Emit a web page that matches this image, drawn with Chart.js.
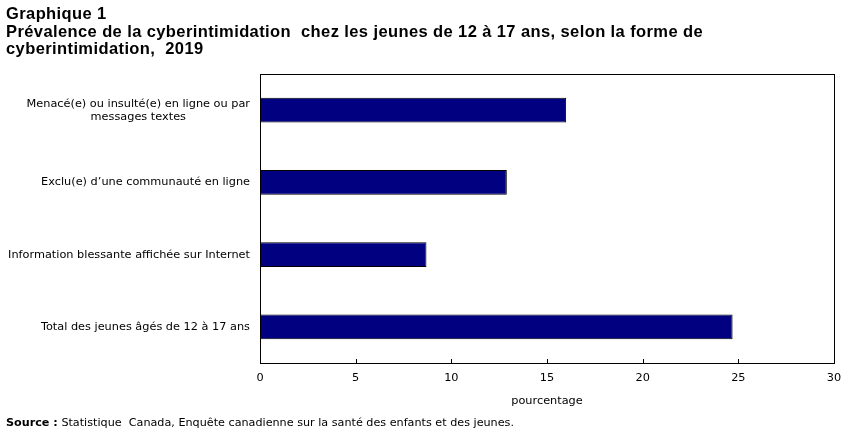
<!DOCTYPE html>
<html><head><meta charset="utf-8">
<script src="https://cdn.jsdelivr.net/npm/chart.js@4/dist/chart.umd.min.js"></script>
<style>
html,body{margin:0;padding:0;background:#fff;width:851px;height:436px;overflow:hidden;}
#wrap{position:relative;width:851px;height:436px;}
#title{position:absolute;left:6px;top:5px;font-family:"Liberation Sans",Arial,sans-serif;font-weight:bold;font-size:16.5px;line-height:17.7px;letter-spacing:0.4px;color:#000;}
#source{position:absolute;left:6px;top:416px;font-family:"DejaVu Sans",Verdana,sans-serif;font-size:11.2px;color:#000;}
canvas{position:absolute;left:0;top:0;}
</style></head>
<body><div id="wrap">
<canvas id="c" width="851" height="436"></canvas>
<div id="title">Graphique 1<br>Prévalence de la cyberintimidation&nbsp; chez les jeunes de 12 à 17 ans, selon la forme de<br>cyberintimidation,&nbsp; 2019</div>
<div id="source"><b>Source :</b> Statistique&nbsp; Canada, Enquête canadienne sur la santé des enfants et des jeunes.</div>
</div>
<script>
const categories = [
  ["Menacé(e) ou insulté(e) en ligne ou par", "messages textes"],
  ["Exclu(e) d’une communauté en ligne"],
  ["Information blessante affichée sur Internet"],
  ["Total des jeunes âgés de 12 à 17 ans"]
];
const values = [16.0, 12.9, 8.7, 24.7];
const xTicks = [0, 5, 10, 15, 20, 25, 30];
const xTitle = "pourcentage";

const FONT = '"DejaVu Sans", Verdana, sans-serif';

const customDraw = {
  id: 'customDraw',
  afterDraw(chart) {
    const ctx = chart.ctx;
    const ca = chart.chartArea;
    const xs = chart.scales.x, ys = chart.scales.y;
    ctx.save();
    ctx.strokeStyle = '#000';
    ctx.lineWidth = 1;
    ctx.strokeRect(Math.round(ca.left) + 0.5, Math.round(ca.top) + 0.5, Math.round(ca.right - ca.left), Math.round(ca.bottom - ca.top));
    xTicks.forEach(v => {
      const px = Math.round(xs.getPixelForValue(v)) + 0.5;
      ctx.beginPath();
      ctx.moveTo(px, Math.round(ca.bottom));
      ctx.lineTo(px, Math.round(ca.bottom) - 4);
      ctx.stroke();
    });
    ctx.fillStyle = '#000';
    ctx.font = '11.3px ' + FONT;
    ctx.textBaseline = 'middle';
    const lh = 13;
    categories.forEach((lines, i) => {
      const cy = ys.getPixelForValue(i);
      const widths = lines.map(l => ctx.measureText(l).width);
      const maxW = Math.max(...widths);
      const rightX = ca.left - 10;
      const n = lines.length;
      lines.forEach((l, j) => {
        const y = cy + (j - (n - 1) / 2) * lh;
        ctx.textAlign = 'center';
        ctx.fillText(l, rightX - maxW / 2, y);
      });
    });
    ctx.restore();
  }
};

new Chart(document.getElementById('c'), {
  type: 'bar',
  data: {
    labels: categories.map(c => c.join(' ')),
    datasets: [{
      data: values,
      backgroundColor: '#000080',
      borderColor: '#000000',
      borderWidth: 1,
      borderSkipped: false,
      barPercentage: 0.9,
      categoryPercentage: 0.38
    }]
  },
  options: {
    indexAxis: 'y',
    responsive: false,
    animation: false,
    layout: { padding: { top: 74, right: 17, left: 0, bottom: 28 } },
    plugins: { legend: { display: false }, tooltip: { enabled: false }, title: { display: false } },
    scales: {
      x: {
        min: 0, max: 30,
        afterBuildTicks: s => { s.ticks = xTicks.map(v => ({ value: v })); },
        afterFit: s => { s.height = 45; },
        grid: { display: false, drawTicks: false },
        border: { display: false },
        ticks: { color: '#000', font: { family: FONT, size: 11.3 }, padding: 8, maxRotation: 0 },
        title: { display: true, text: xTitle, color: '#000', font: { family: FONT, size: 11.3 }, padding: { top: 10, bottom: 0 } }
      },
      y: {
        afterFit: s => { s.width = 260; },
        grid: { display: false, drawTicks: false },
        border: { display: false },
        ticks: { display: false }
      }
    }
  },
  plugins: [customDraw]
});
</script>
</body></html>
